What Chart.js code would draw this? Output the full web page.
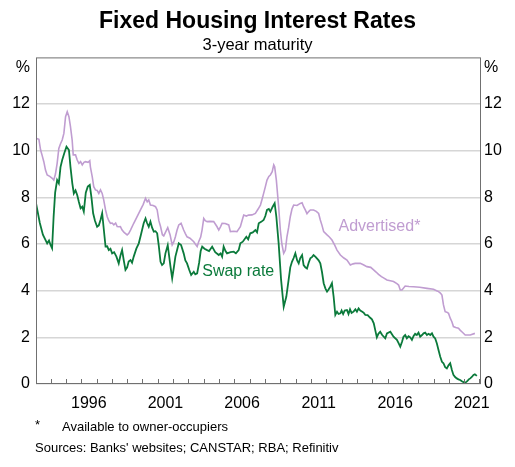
<!DOCTYPE html>
<html lang="en">
<head>
  <meta charset="UTF-8" />
  <title>Fixed Housing Interest Rates</title>
  <script src="https://cdn.jsdelivr.net/npm/chart.js"></script>
  <style>
    * { box-sizing: border-box; }
    body { margin: 0; background: #fff; }
    canvas { display: block; }
  </style>
</head>
<body>
  <canvas id="ratesChart" width="515" height="467"></canvas>
  <script>
    // Swap rate (3-year)
    const swapYears = [
      1993.05, 1993.3, 1993.5, 1993.65, 1993.78, 1993.9, 1994.0, 1994.1, 1994.2, 1994.3,
      1994.43, 1994.54, 1994.65, 1994.76, 1994.9, 1995.04, 1995.2, 1995.3, 1995.42, 1995.52,
      1995.63, 1995.74, 1995.85, 1995.96, 1996.07, 1996.17, 1996.3, 1996.43, 1996.56, 1996.67,
      1996.78, 1996.9, 1997.04, 1997.15, 1997.26, 1997.37, 1997.48, 1997.59, 1997.7, 1997.8,
      1997.91, 1998.02, 1998.15, 1998.3, 1998.45, 1998.56, 1998.67, 1998.78, 1998.89, 1999.0,
      1999.1, 1999.22, 1999.32, 1999.43, 1999.6, 1999.76, 1999.9, 2000.08, 2000.2, 2000.3,
      2000.41, 2000.52, 2000.63, 2000.74, 2000.85, 2000.96, 2001.07, 2001.18, 2001.28, 2001.39,
      2001.5, 2001.65, 2001.83, 2001.94, 2002.05, 2002.15, 2002.26, 2002.37, 2002.52, 2002.69,
      2002.8, 2002.91, 2003.05, 2003.18, 2003.35, 2003.45, 2003.57, 2003.7, 2003.8, 2003.9,
      2004.05, 2004.22, 2004.35, 2004.55, 2004.75, 2004.98, 2005.1, 2005.2, 2005.3, 2005.42,
      2005.52, 2005.75, 2005.96, 2006.1, 2006.28, 2006.39, 2006.55, 2006.78, 2006.9, 2007.04,
      2007.2, 2007.37, 2007.48, 2007.59, 2007.75, 2007.91, 2008.02, 2008.13, 2008.25, 2008.35,
      2008.5, 2008.63, 2008.74, 2008.89, 2009.05, 2009.22, 2009.39, 2009.54, 2009.65, 2009.76,
      2009.87, 2009.98, 2010.1, 2010.2, 2010.3, 2010.42, 2010.52, 2010.63, 2010.74, 2010.85,
      2010.96, 2011.08, 2011.17, 2011.3, 2011.5, 2011.61, 2011.72, 2011.83, 2011.94, 2012.05,
      2012.15, 2012.26, 2012.37, 2012.48, 2012.59, 2012.7, 2012.8, 2012.92, 2013.0, 2013.1,
      2013.2, 2013.35, 2013.45, 2013.55, 2013.65, 2013.78, 2013.9, 2014.0, 2014.11, 2014.22,
      2014.35, 2014.45, 2014.55, 2014.7, 2014.85, 2014.98, 2015.1, 2015.2, 2015.3, 2015.4,
      2015.52, 2015.65, 2015.85, 2015.96, 2016.18, 2016.39, 2016.61, 2016.72, 2016.83, 2016.94,
      2017.04, 2017.15, 2017.26, 2017.37, 2017.48, 2017.59, 2017.7, 2017.8, 2017.91, 2018.02,
      2018.13, 2018.25, 2018.35, 2018.46, 2018.57, 2018.68, 2018.79, 2018.9, 2019.0, 2019.11,
      2019.22, 2019.33, 2019.44, 2019.55, 2019.65, 2019.76, 2019.87, 2019.98, 2020.09, 2020.2,
      2020.3, 2020.41, 2020.52, 2020.63, 2020.74, 2020.85, 2020.96, 2021.07, 2021.2, 2021.3,
      2021.4, 2021.5, 2021.61, 2021.7, 2021.83
    ];
    const swapRates = [
      7.75, 6.9, 6.4, 6.2, 6.03, 6.15, 5.96, 5.82, 7.17, 8.2,
      8.74, 8.6, 9.3, 9.6, 9.9, 10.17, 10.03, 9.31, 8.6, 8.17,
      8.3, 8.1, 7.8, 7.53, 7.6, 7.39, 8.2, 8.46, 8.53, 8.0,
      7.32, 7.0, 6.74, 6.8, 7.03, 7.32, 6.6, 5.89, 5.9, 5.74,
      5.8, 5.6, 5.65, 5.46, 5.17, 5.5, 5.74, 5.3, 4.89, 5.0,
      5.25, 5.31, 5.2, 5.46, 5.8, 6.03, 6.4, 6.89, 7.1, 6.9,
      6.74, 6.96, 6.7, 6.53, 6.55, 6.46, 5.9, 5.24, 5.1, 5.17,
      5.6, 5.95, 5.03, 4.53, 5.0, 5.46, 5.74, 6.03, 5.96, 5.6,
      5.3, 5.17, 4.9, 4.67, 4.81, 4.7, 4.74, 5.2, 5.7, 5.89,
      5.8, 5.74, 5.7, 5.89, 5.65, 5.53, 5.6, 5.46, 5.89, 5.7,
      5.6, 5.65, 5.67, 5.6, 5.74, 6.03, 6.1, 6.31, 6.2, 6.46,
      6.5, 6.6, 6.5, 6.89, 6.95, 7.03, 7.2, 7.46, 7.5, 7.39,
      7.6, 7.75, 7.17, 6.03, 4.46, 3.31, 3.74, 4.46, 5.0, 5.24,
      5.4, 5.6, 5.3, 5.17, 5.4, 5.53, 5.1, 5.0, 4.95, 5.2,
      5.39, 5.45, 5.53, 5.45, 5.3, 5.17, 4.8, 4.32, 4.1, 3.96,
      4.05, 4.17, 4.32, 3.74, 2.96, 3.1, 3.0, 3.03, 3.15, 3.0,
      3.15, 3.17, 3.0, 3.2, 3.05, 3.1, 3.2, 3.1, 3.24, 3.15,
      3.1, 3.05, 2.96, 2.95, 2.85, 2.77, 2.6, 2.3, 2.0, 2.15,
      2.24, 2.1, 1.96, 2.17, 2.24, 2.03, 1.89, 1.75, 1.6, 1.8,
      2.03, 2.1, 1.96, 2.05, 2.0, 1.89, 2.06, 2.15, 2.1, 2.2,
      2.03, 2.1, 2.17, 2.2, 2.1, 2.15, 2.1, 2.17, 2.03, 1.95,
      1.74, 1.45, 1.17, 0.95, 0.89, 0.72, 0.67, 0.8, 0.89, 0.6,
      0.39, 0.3, 0.24, 0.2, 0.17, 0.12, 0.08, 0.05, 0.12, 0.2,
      0.24, 0.3, 0.39, 0.42, 0.35
    ];

    // Advertised fixed rate (owner-occupiers)
    const advYears = [
      1993.05, 1993.24, 1993.35, 1993.45, 1993.56, 1993.67, 1993.78, 1993.95, 1994.11, 1994.21,
      1994.32, 1994.43, 1994.54, 1994.65, 1994.76, 1994.87, 1994.98, 1995.09, 1995.2, 1995.3,
      1995.41, 1995.48, 1995.63, 1995.74, 1995.85, 1995.96, 1996.07, 1996.18, 1996.28, 1996.45,
      1996.56, 1996.6, 1996.72, 1996.82, 1996.93, 1997.04, 1997.15, 1997.26, 1997.37, 1997.47,
      1997.59, 1997.7, 1997.8, 1997.91, 1998.02, 1998.13, 1998.25, 1998.35, 1998.45, 1998.56,
      1998.67, 1998.8, 1999.0, 1999.1, 1999.22, 1999.43, 1999.65, 1999.87, 2000.05, 2000.2,
      2000.31, 2000.41, 2000.52, 2000.7, 2000.85, 2000.96, 2001.07, 2001.18, 2001.3, 2001.39,
      2001.5, 2001.65, 2001.8, 2001.94, 2002.05, 2002.15, 2002.26, 2002.37, 2002.52, 2002.69,
      2002.8, 2002.91, 2003.1, 2003.35, 2003.45, 2003.57, 2003.67, 2003.8, 2003.89, 2004.0,
      2004.1, 2004.22, 2004.4, 2004.65, 2004.87, 2004.98, 2005.1, 2005.2, 2005.4, 2005.63,
      2005.74, 2005.95, 2006.17, 2006.39, 2006.5, 2006.61, 2006.78, 2006.93, 2007.15, 2007.37,
      2007.55, 2007.7, 2007.8, 2007.91, 2008.02, 2008.13, 2008.25, 2008.35, 2008.47, 2008.57,
      2008.63, 2008.74, 2008.89, 2009.0, 2009.1, 2009.22, 2009.33, 2009.43, 2009.54, 2009.65,
      2009.76, 2009.87, 2010.09, 2010.3, 2010.42, 2010.52, 2010.63, 2010.74, 2010.85, 2010.96,
      2011.17, 2011.35, 2011.5, 2011.61, 2011.72, 2011.83, 2012.05, 2012.2, 2012.37, 2012.55,
      2012.7, 2012.92, 2013.15, 2013.35, 2013.57, 2013.75, 2013.89, 2014.22, 2014.45, 2014.65,
      2014.9, 2015.09, 2015.25, 2015.41, 2015.6, 2015.74, 2015.96, 2016.18, 2016.39, 2016.61,
      2016.72, 2016.83, 2016.94, 2017.15, 2017.4, 2017.7, 2018.1, 2018.57, 2019.0, 2019.2,
      2019.33, 2019.45, 2019.55, 2019.65, 2019.76, 2019.87, 2019.98, 2020.09, 2020.2, 2020.3,
      2020.45, 2020.63, 2020.75, 2020.85, 2021.07, 2021.4, 2021.7
    ];
    const advRates = [
      10.53, 10.49, 10.03, 9.8, 9.53, 9.17, 8.96, 8.9, 8.82, 8.74,
      9.0, 9.46, 10.1, 10.3, 10.46, 10.74, 11.46, 11.67, 11.46, 11.03,
      10.46, 9.82, 9.82, 9.6, 9.46, 9.53, 9.39, 9.5, 9.53, 9.5,
      9.57, 9.31, 8.89, 8.46, 8.32, 8.3, 8.17, 8.32, 8.17, 7.89,
      7.46, 7.17, 7.0, 6.89, 6.9, 6.82, 6.9, 6.75, 6.74, 6.75,
      6.6, 6.5, 6.39, 6.45, 6.6, 6.89, 7.17, 7.46, 7.7, 7.96,
      7.81, 7.89, 7.67, 7.65, 7.6, 7.46, 7.0, 6.75, 6.4, 6.35,
      6.5, 6.7, 6.4, 5.96, 6.1, 6.31, 6.6, 6.82, 6.89, 6.6,
      6.45, 6.31, 6.25, 6.1, 6.0, 5.89, 6.1, 6.3, 6.6, 7.1,
      7.0, 6.96, 6.97, 6.96, 6.74, 6.6, 6.75, 6.89, 6.88, 6.82,
      6.53, 6.55, 6.53, 6.74, 7.0, 7.24, 7.2, 7.24, 7.25, 7.31,
      7.5, 7.67, 7.9, 8.17, 8.45, 8.74, 8.9, 8.96, 9.1, 9.39,
      9.31, 8.74, 7.6, 6.6, 6.0, 5.6, 5.74, 6.3, 6.7, 7.17,
      7.5, 7.67, 7.65, 7.74, 7.77, 7.6, 7.46, 7.3, 7.39, 7.46,
      7.46, 7.4, 7.31, 7.03, 6.8, 6.53, 6.39, 6.3, 6.17, 5.95,
      5.74, 5.53, 5.4, 5.31, 5.1, 5.15, 5.17, 5.17, 5.1, 5.03,
      5.0, 4.89, 4.8, 4.7, 4.6, 4.55, 4.46, 4.43, 4.39, 4.3,
      4.24, 4.03, 4.03, 4.2, 4.18, 4.17, 4.15, 4.1, 4.06, 4.0,
      3.96, 3.9, 3.81, 3.39, 3.1, 3.08, 3.03, 2.82, 2.67, 2.46,
      2.42, 2.39, 2.3, 2.24, 2.1, 2.1, 2.17
    ];

    const yTicks = [0, 2, 4, 6, 8, 10, 12];
    const yearLabels = [1996, 2001, 2006, 2011, 2016, 2021];

    const green = '#0b7a3b';
    const purple = '#c09dd1';
    const FONT = 'Arial, "Liberation Sans", sans-serif';

    function toPoints(xs, ys) {
      return xs.map((x, i) => ({ x: x, y: ys[i] }));
    }

    // frame, inward year ticks, "%" units, series labels and footnotes
    const decorations = {
      id: 'decorations',
      afterDraw(chart) {
        const { ctx, chartArea: a, scales } = chart;
        const x = scales.x, y = scales.y;
        ctx.save();
        ctx.strokeStyle = '#707070';
        ctx.lineWidth = 1;
        ctx.strokeRect(a.left + 0.5, a.top + 0.5, a.right - a.left - 1, a.bottom - a.top - 1);

        for (let yr = Math.ceil(x.min); yr <= x.max; yr++) {
          const px = Math.round(x.getPixelForValue(yr)) + 0.5;
          ctx.beginPath();
          ctx.moveTo(px, a.bottom);
          ctx.lineTo(px, a.bottom - 5);
          ctx.stroke();
        }

        ctx.fillStyle = '#000';
        ctx.font = '16px ' + FONT;
        ctx.textBaseline = 'middle';
        ctx.textAlign = 'right';
        ctx.fillText('%', a.left - 6, a.top + 10);
        ctx.textAlign = 'left';
        ctx.fillText('%', a.right + 3, a.top + 10);

        ctx.fillStyle = purple;
        ctx.fillText('Advertised*', x.getPixelForValue(2012.8), y.getPixelForValue(6.73));
        ctx.fillStyle = green;
        ctx.fillText('Swap rate', x.getPixelForValue(2003.9), y.getPixelForValue(4.8));

        ctx.fillStyle = '#000';
        ctx.font = '13px ' + FONT;
        ctx.fillText('*', 35, 425);
        ctx.fillText('Available to owner-occupiers', 62, 427);
        ctx.fillText("Sources: Banks' websites; CANSTAR; RBA; Refinitiv", 35, 448);
        ctx.restore();
      }
    };

    new Chart(document.getElementById('ratesChart'), {
      type: 'line',
      data: {
        datasets: [
          {
            label: 'Advertised*',
            data: toPoints(advYears, advRates),
            borderColor: purple,
            borderWidth: 1.6,
            pointRadius: 0,
            tension: 0
          },
          {
            label: 'Swap rate',
            data: toPoints(swapYears, swapRates),
            borderColor: green,
            borderWidth: 1.8,
            pointRadius: 0,
            tension: 0
          }
        ]
      },
      options: {
        responsive: false,
        animation: false,
        devicePixelRatio: 1,
        layout: { padding: { bottom: 53 } },
        plugins: {
          legend: { display: false },
          tooltip: { enabled: false },
          title: {
            display: true,
            text: 'Fixed Housing Interest Rates',
            color: '#000',
            font: { family: FONT, size: 23, weight: 'bold' },
            padding: { top: 8, bottom: 0 }
          },
          subtitle: {
            display: true,
            text: '3-year maturity',
            color: '#000',
            font: { family: FONT, size: 16.5 },
            padding: { top: 0, bottom: 2 }
          }
        },
        scales: {
          x: {
            type: 'linear',
            min: 1993.05,
            max: 2022.1,
            afterBuildTicks: s => { s.ticks = yearLabels.map(v => ({ value: v + 0.5 })); },
            afterFit: s => { s.height = 30; },
            ticks: {
              color: '#000',
              font: { family: FONT, size: 16 },
              padding: 10,
              maxRotation: 0,
              callback: v => String(Math.floor(v))
            },
            grid: { display: false, drawTicks: false },
            border: { display: false }
          },
          y: {
            position: 'left',
            min: 0,
            max: 14,
            afterBuildTicks: s => { s.ticks = yTicks.map(v => ({ value: v })); },
            afterFit: s => { s.width = 36; },
            ticks: { color: '#000', font: { family: FONT, size: 16 }, padding: 6 },
            grid: { color: '#d6d6d6', lineWidth: 1.6, drawTicks: false },
            border: { display: false }
          },
          y2: {
            position: 'right',
            min: 0,
            max: 14,
            afterBuildTicks: s => { s.ticks = yTicks.map(v => ({ value: v })); },
            afterFit: s => { s.width = 34; },
            ticks: { color: '#000', font: { family: FONT, size: 16 }, padding: 3 },
            grid: { display: false, drawTicks: false },
            border: { display: false }
          }
        }
      },
      plugins: [decorations]
    });
  </script>
</body>
</html>
